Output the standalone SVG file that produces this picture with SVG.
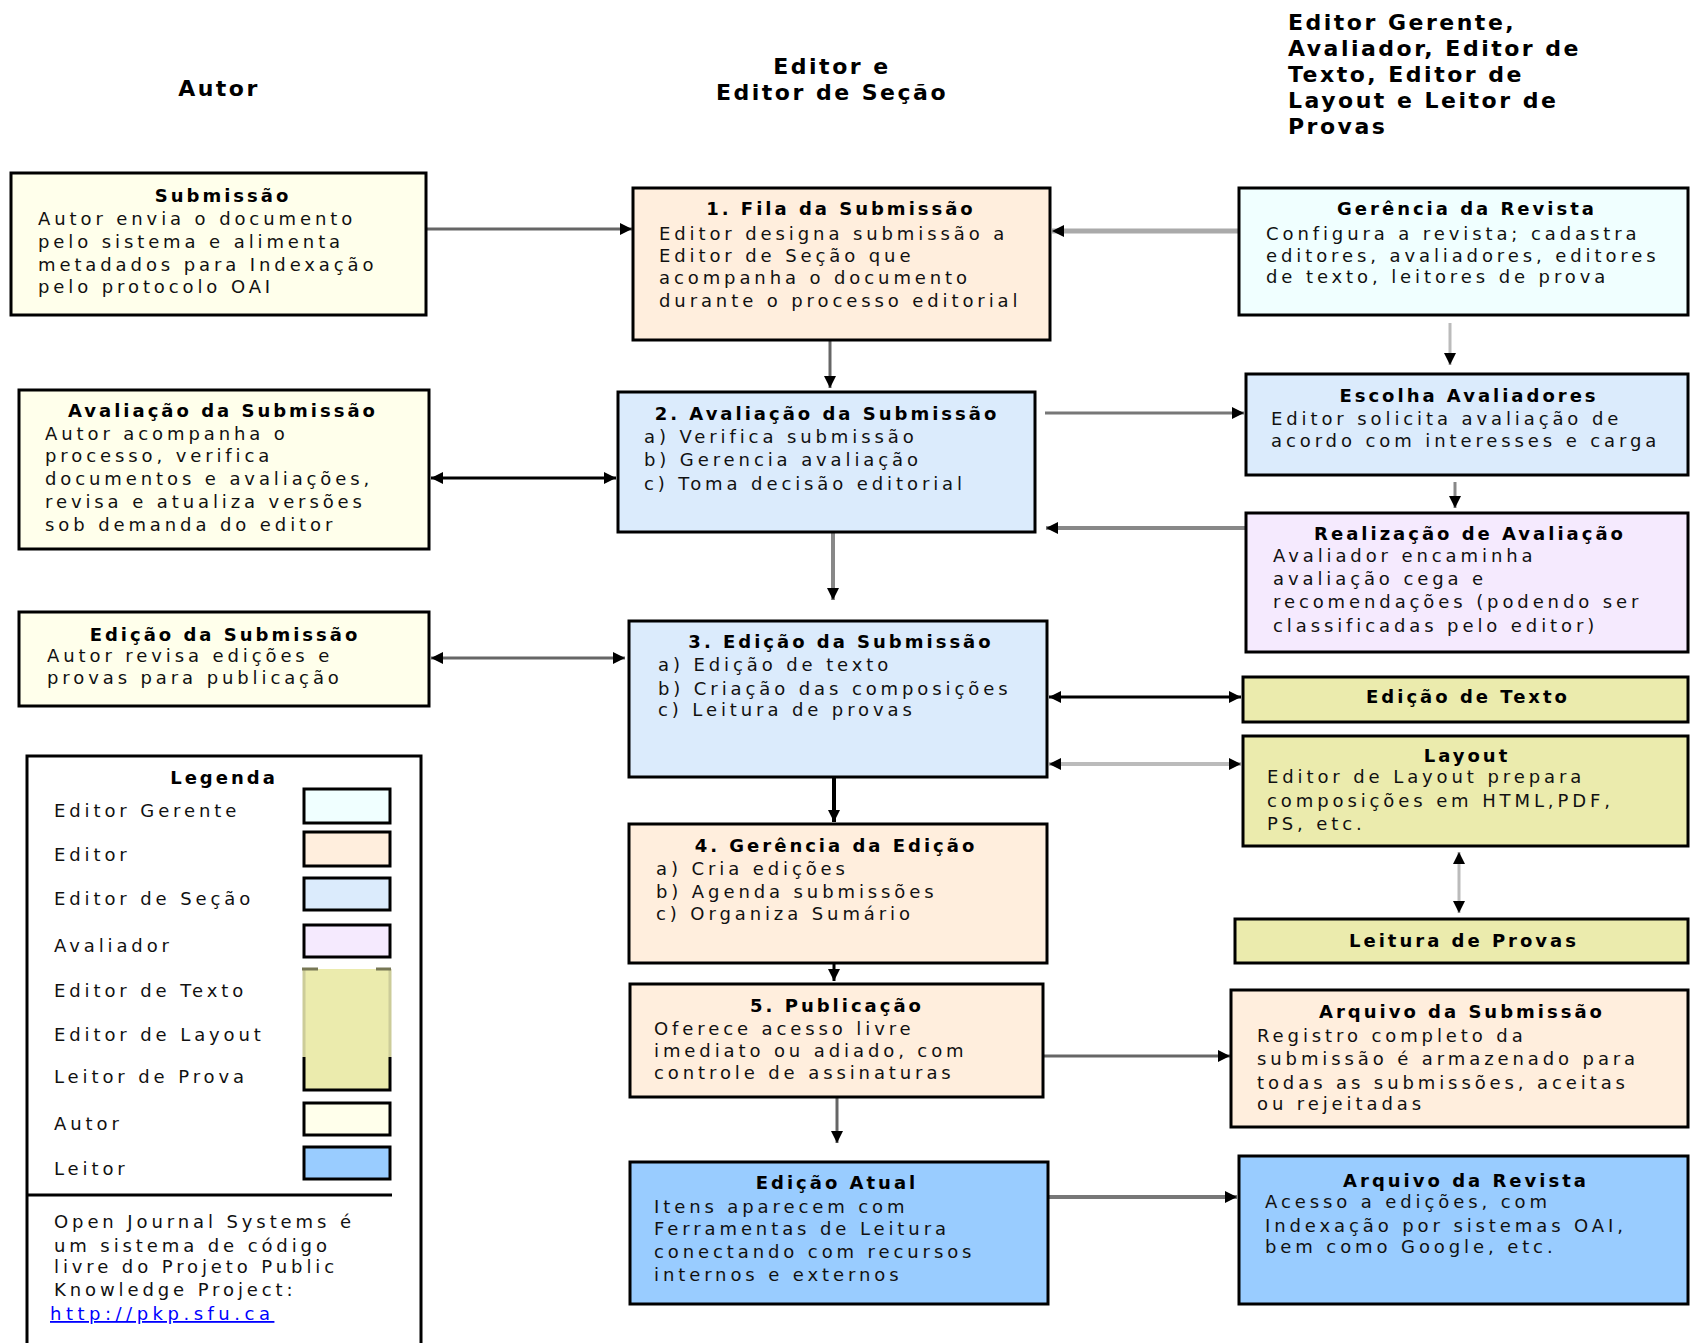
<svg xmlns="http://www.w3.org/2000/svg" width="1690" height="1343" viewBox="0 0 1690 1343">
<style>
.box{stroke:#000;stroke-width:3}
.au{fill:#FFFFEB}.ed{fill:#FFEEDD}.se{fill:#DBEBFC}.ge{fill:#F0FFFF}.av{fill:#F5EAFE}.ye{fill:#EBEBAD}.le{fill:#99CCFF}
.t{font-family:"DejaVu Sans",sans-serif;font-size:18px;font-weight:bold;text-anchor:middle;letter-spacing:3px;fill:#000}
.b{font-family:"DejaVu Sans",sans-serif;font-size:18px;letter-spacing:3.9px;fill:#111}
.h{font-family:"DejaVu Sans",sans-serif;font-weight:bold;font-size:22px;letter-spacing:2.5px;fill:#000}
.c{fill:none;stroke-linecap:butt}
</style>
<defs>
<marker id="ah" viewBox="0 0 10 10" refX="10" refY="5" markerWidth="12" markerHeight="12" markerUnits="userSpaceOnUse" orient="auto-start-reverse">
<path d="M0,0 L10,5 L0,10 z" fill="#000"/>
</marker>
</defs>
<rect width="1690" height="1343" fill="#fff"/>

<g id="headers">
<text class="h" x="219" y="96" text-anchor="middle">Autor</text>
<text class="h" text-anchor="middle"><tspan x="832" y="74">Editor e</tspan><tspan x="832" y="100">Editor de Seção</tspan></text>
<text class="h"><tspan x="1288" y="30">Editor Gerente,</tspan><tspan x="1288" y="56">Avaliador, Editor de</tspan><tspan x="1288" y="82">Texto, Editor de</tspan><tspan x="1288" y="108">Layout e Leitor de</tspan><tspan x="1288" y="134">Provas</tspan></text>
</g>

<g id="connectors">
<path class="c" d="M426,229 H632" stroke="#666" stroke-width="3" marker-end="url(#ah)"/>
<path class="c" d="M1239,231 H1052" stroke="#aaa" stroke-width="5" marker-end="url(#ah)"/>
<path class="c" d="M830,340 V388" stroke="#666" stroke-width="3" marker-end="url(#ah)"/>
<path class="c" d="M431,478 H616" stroke="#000" stroke-width="3" marker-start="url(#ah)" marker-end="url(#ah)"/>
<path class="c" d="M1045,413 H1244" stroke="#777" stroke-width="3" marker-end="url(#ah)"/>
<path class="c" d="M1450,323 V365" stroke="#bbb" stroke-width="3" marker-end="url(#ah)"/>
<path class="c" d="M1455,482 V508" stroke="#888" stroke-width="3" marker-end="url(#ah)"/>
<path class="c" d="M1246,528 H1046" stroke="#888" stroke-width="4" marker-end="url(#ah)"/>
<path class="c" d="M833,532 V600" stroke="#888" stroke-width="4" marker-end="url(#ah)"/>
<path class="c" d="M431,658 H625" stroke="#666" stroke-width="3" marker-start="url(#ah)" marker-end="url(#ah)"/>
<path class="c" d="M1049,697 H1241" stroke="#000" stroke-width="3" marker-start="url(#ah)" marker-end="url(#ah)"/>
<path class="c" d="M1049,764 H1241" stroke="#bbb" stroke-width="4" marker-start="url(#ah)" marker-end="url(#ah)"/>
<path class="c" d="M1459,852 V913" stroke="#bbb" stroke-width="3" marker-start="url(#ah)" marker-end="url(#ah)"/>
<path class="c" d="M834,777 V822" stroke="#000" stroke-width="4" marker-end="url(#ah)"/>
<path class="c" d="M834,963 V981" stroke="#000" stroke-width="3" marker-end="url(#ah)"/>
<path class="c" d="M1043,1056 H1230" stroke="#666" stroke-width="3" marker-end="url(#ah)"/>
<path class="c" d="M837,1097 V1143" stroke="#666" stroke-width="3" marker-end="url(#ah)"/>
<path class="c" d="M1048,1197 H1237" stroke="#777" stroke-width="4" marker-end="url(#ah)"/>
</g>

<g id="submissao">
<rect class="box au" x="11" y="173" width="415" height="142"/>
<text class="t" x="223" y="202">Submissão</text>
<text class="b" x="38" y="225">Autor envia o documento</text>
<text class="b" x="38" y="248">pelo sistema e alimenta</text>
<text class="b" x="38" y="271">metadados para Indexação</text>
<text class="b" x="38" y="293">pelo protocolo OAI</text>
</g>

<g id="avaliacao-autor">
<rect class="box au" x="19" y="390" width="410" height="159"/>
<text class="t" x="223" y="417">Avaliação da Submissão</text>
<text class="b" x="45" y="440">Autor acompanha o</text>
<text class="b" x="45" y="462">processo, verifica</text>
<text class="b" x="45" y="485">documentos e avaliações,</text>
<text class="b" x="45" y="508">revisa e atualiza versões</text>
<text class="b" x="45" y="531">sob demanda do editor</text>
</g>

<g id="edicao-autor">
<rect class="box au" x="19" y="612" width="410" height="94"/>
<text class="t" x="225" y="641">Edição da Submissão</text>
<text class="b" x="47" y="662">Autor revisa edições e</text>
<text class="b" x="47" y="684">provas para publicação</text>
</g>

<g id="fila">
<rect class="box ed" x="633" y="188" width="417" height="152"/>
<text class="t" x="841" y="215">1. Fila da Submissão</text>
<text class="b" x="659" y="240">Editor designa submissão a</text>
<text class="b" x="659" y="262">Editor de Seção que</text>
<text class="b" x="659" y="284">acompanha o documento</text>
<text class="b" x="659" y="307">durante o processo editorial</text>
</g>

<g id="avaliacao">
<rect class="box se" x="618" y="392" width="417" height="140"/>
<text class="t" x="827" y="420">2. Avaliação da Submissão</text>
<text class="b" x="644" y="443">a) Verifica submissão</text>
<text class="b" x="644" y="466">b) Gerencia avaliação</text>
<text class="b" x="644" y="490">c) Toma decisão editorial</text>
</g>

<g id="edicao">
<rect class="box se" x="629" y="621" width="418" height="156"/>
<text class="t" x="841" y="648">3. Edição da Submissão</text>
<text class="b" x="658" y="671">a) Edição de texto</text>
<text class="b" x="658" y="695">b) Criação das composições</text>
<text class="b" x="658" y="716">c) Leitura de provas</text>
</g>

<g id="gerencia-edicao">
<rect class="box ed" x="629" y="824" width="418" height="139"/>
<text class="t" x="836" y="852">4. Gerência da Edição</text>
<text class="b" x="656" y="875">a) Cria edições</text>
<text class="b" x="656" y="898">b) Agenda submissões</text>
<text class="b" x="656" y="920">c) Organiza Sumário</text>
</g>

<g id="publicacao">
<rect class="box ed" x="630" y="984" width="413" height="113"/>
<text class="t" x="837" y="1012">5. Publicação</text>
<text class="b" x="654" y="1035">Oferece acesso livre</text>
<text class="b" x="654" y="1057">imediato ou adiado, com</text>
<text class="b" x="654" y="1079">controle de assinaturas</text>
</g>

<g id="edicao-atual">
<rect class="box le" x="630" y="1162" width="418" height="142"/>
<text class="t" x="837" y="1189">Edição Atual</text>
<text class="b" x="654" y="1213">Itens aparecem com</text>
<text class="b" x="654" y="1235">Ferramentas de Leitura</text>
<text class="b" x="654" y="1258">conectando com recursos</text>
<text class="b" x="654" y="1281">internos e externos</text>
</g>

<g id="gerencia-revista">
<rect class="box ge" x="1239" y="188" width="449" height="127"/>
<text class="t" x="1467" y="215">Gerência da Revista</text>
<text class="b" x="1266" y="240">Configura a revista; cadastra</text>
<text class="b" x="1266" y="262">editores, avaliadores, editores</text>
<text class="b" x="1266" y="283">de texto, leitores de prova</text>
</g>

<g id="escolha">
<rect class="box se" x="1246" y="374" width="442" height="101"/>
<text class="t" x="1469" y="402">Escolha Avaliadores</text>
<text class="b" x="1271" y="425">Editor solicita avaliação de</text>
<text class="b" x="1271" y="447">acordo com interesses e carga</text>
</g>

<g id="realizacao">
<rect class="box av" x="1246" y="513" width="442" height="139"/>
<text class="t" x="1470" y="540">Realização de Avaliação</text>
<text class="b" x="1273" y="562">Avaliador encaminha</text>
<text class="b" x="1273" y="585">avaliação cega e</text>
<text class="b" x="1273" y="608">recomendações (podendo ser</text>
<text class="b" x="1273" y="632">classificadas pelo editor)</text>
</g>

<g id="edicao-texto">
<rect class="box ye" x="1243" y="677" width="445" height="45"/>
<text class="t" x="1468" y="703">Edição de Texto</text>
</g>

<g id="layout">
<rect class="box ye" x="1243" y="736" width="445" height="110"/>
<text class="t" x="1467" y="762">Layout</text>
<text class="b" x="1267" y="783">Editor de Layout prepara</text>
<text class="b" x="1267" y="807">composições em HTML,PDF,</text>
<text class="b" x="1267" y="830">PS, etc.</text>
</g>

<g id="leitura-provas">
<rect class="box ye" x="1235" y="919" width="453" height="44"/>
<text class="t" x="1464" y="947">Leitura de Provas</text>
</g>

<g id="arquivo-submissao">
<rect class="box ed" x="1231" y="990" width="457" height="137"/>
<text class="t" x="1462" y="1018">Arquivo da Submissão</text>
<text class="b" x="1257" y="1042">Registro completo da</text>
<text class="b" x="1257" y="1065">submissão é armazenado para</text>
<text class="b" x="1257" y="1089">todas as submissões, aceitas</text>
<text class="b" x="1257" y="1110">ou rejeitadas</text>
</g>

<g id="arquivo-revista">
<rect class="box le" x="1239" y="1156" width="449" height="148"/>
<text class="t" x="1466" y="1187">Arquivo da Revista</text>
<text class="b" x="1265" y="1208">Acesso a edições, com</text>
<text class="b" x="1265" y="1232">Indexação por sistemas OAI,</text>
<text class="b" x="1265" y="1253">bem como Google, etc.</text>
</g>

<g id="legenda">
<rect x="27" y="756" width="394" height="600" fill="#fff" stroke="#000" stroke-width="3"/>
<text class="t" x="224" y="784">Legenda</text>
<text class="b" x="54" y="817">Editor Gerente</text>
<text class="b" x="54" y="861">Editor</text>
<text class="b" x="54" y="905">Editor de Seção</text>
<text class="b" x="54" y="952">Avaliador</text>
<text class="b" x="54" y="997">Editor de Texto</text>
<text class="b" x="54" y="1041">Editor de Layout</text>
<text class="b" x="54" y="1083">Leitor de Prova</text>
<text class="b" x="54" y="1130">Autor</text>
<text class="b" x="54" y="1175">Leitor</text>
<rect class="box ge" x="304" y="789" width="86" height="34"/>
<rect class="box ed" x="304" y="832" width="86" height="34"/>
<rect class="box se" x="304" y="878" width="86" height="32"/>
<rect class="box av" x="304" y="925" width="86" height="32"/>
<rect class="ye" x="304" y="969" width="86" height="121"/>
<path d="M304,969 V1057 M390,969 V1057" stroke="#CCCC99" stroke-width="3" fill="none"/>
<path d="M304,1057 V1090 H390 V1057" stroke="#000" stroke-width="3" fill="none"/>
<path d="M302,969 H318 M376,969 H391" stroke="#777755" stroke-width="3" fill="none"/>
<rect class="box au" x="304" y="1103" width="86" height="32"/>
<rect class="box le" x="304" y="1147" width="86" height="32"/>
<line x1="27" y1="1195" x2="392" y2="1195" stroke="#000" stroke-width="3"/>
<text class="b" x="54" y="1228">Open Journal Systems é</text>
<text class="b" x="54" y="1252">um sistema de código</text>
<text class="b" x="54" y="1273">livre do Projeto Public</text>
<text class="b" x="54" y="1296">Knowledge Project:</text>
<text class="b" x="50" y="1320" style="fill:#0000FF;letter-spacing:4.5px" text-decoration="underline">http://pkp.sfu.ca</text>
</g>
</svg>
